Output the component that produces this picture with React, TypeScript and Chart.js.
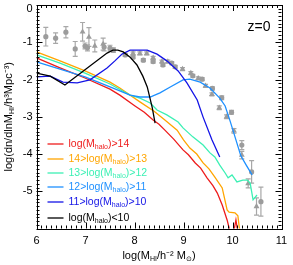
import React, { useEffect, useRef } from "react";
import { Chart, registerables } from "chart.js";
Chart.register(...registerables);

// ---- data (log M_HI, log dn/dlnM) ----
const redX = [6.0, 6.48, 6.99, 7.5, 7.7, 8.01, 8.2, 8.38, 8.5, 8.62, 8.8, 8.99, 9.1, 9.24, 9.35, 9.48, 9.6, 9.69, 9.79, 9.89, 9.95, 10.01, 10.07, 10.13];
const redY = [-1.42, -1.69, -1.96, -2.26, -2.42, -2.71, -2.88, -3.09, -3.2, -3.36, -3.6, -3.89, -4.02, -4.24, -4.38, -4.64, -4.85, -5.05, -5.37, -5.77, -6.09, -6.2, -5.77, -6.3];

const orangeX = [6.0, 6.48, 6.99, 7.5, 7.7, 8.11, 8.4, 8.62, 8.87, 9.0, 9.13, 9.27, 9.4, 9.52, 9.64, 9.79, 9.89, 9.93, 10.05, 10.11, 10.15];
const orangeY = [-1.26, -1.5, -1.77, -2.07, -2.23, -2.6, -2.85, -3.09, -3.36, -3.62, -3.84, -4.0, -4.24, -4.4, -4.62, -4.91, -5.5, -5.56, -5.58, -5.66, -6.1];

const greenX = [6.0, 6.48, 6.99, 7.5, 7.91, 8.11, 8.32, 8.46, 8.66, 8.89, 8.99, 9.19, 9.4, 9.54, 9.64, 9.74, 9.85, 9.91, 9.99, 10.09, 10.21, 10.3, 10.36, 10.42, 10.5];
const greenY = [-1.34, -1.56, -1.83, -2.12, -2.42, -2.5, -2.63, -2.82, -2.95, -3.14, -3.3, -3.54, -3.76, -3.97, -4.08, -4.3, -4.51, -4.64, -4.56, -4.75, -4.7, -4.7, -4.78, -5.23, -5.1];

const lblueX = [6.0, 6.48, 6.99, 7.5, 7.91, 8.11, 8.32, 8.52, 8.73, 8.99, 9.13, 9.34, 9.54, 9.74, 9.85, 9.95, 10.07, 10.17, 10.28, 10.4];
const lblueY = [-1.53, -1.72, -1.93, -2.2, -2.42, -2.47, -2.47, -2.36, -2.2, -2.01, -1.99, -2.07, -2.23, -2.5, -2.71, -3.11, -3.62, -4.05, -4.3, -4.56];

const blueX = [6.0, 6.28, 6.54, 6.83, 7.09, 7.44, 7.6, 7.74, 7.91, 8.26, 8.46, 8.66, 8.89, 9.07, 9.28, 9.4, 9.58, 9.74];
const blueY = [-1.93, -1.91, -2.07, -2.09, -2.01, -1.69, -1.5, -1.32, -1.21, -1.21, -1.32, -1.5, -1.77, -2.09, -2.55, -3.01, -3.62, -4.08];

const blackX = [6.0, 6.28, 6.58, 7.44, 7.56, 7.66, 7.77, 7.91, 8.05, 8.17, 8.26, 8.36, 8.42];
const blackY = [-1.83, -1.91, -2.15, -1.29, -1.21, -1.21, -1.26, -1.4, -1.61, -1.91, -2.2, -2.74, -3.17];

// observations: circles
const circX = [6.19, 6.39, 6.6, 6.79, 6.99, 7.04, 7.38, 7.5, 7.57, 7.81, 7.97, 8.18, 8.38, 8.58, 8.76, 8.83, 9.19, 9.38, 9.59, 9.78, 9.98, 10.19, 10.39, 10.58];
const circY = [-0.85, -0.89, -0.73, -1.18, -1.1, -1.15, -1.13, -1.16, -1.21, -1.34, -1.4, -1.48, -1.52, -1.61, -1.56, -1.66, -1.9, -1.99, -2.24, -2.49, -2.88, -3.76, -4.48, -5.28];
const circErr = [0.25, 0.14, 0.15, 0.2, 0.08, 0.08, 0.1, 0.08, 0.06, 0.04, 0.04, 0.04, 0.04, 0.04, 0.04, 0.04, 0.04, 0.04, 0.04, 0.05, 0.05, 0.12, 0.3, 0.39];
// observations: triangles
const triX = [6.94, 7.07, 7.19, 7.36, 7.97, 8.11, 8.25, 8.38, 8.56, 8.68, 8.98, 9.15, 9.3, 9.45, 9.58, 9.73, 9.88, 10.03, 10.19, 10.32, 10.49];
const triY = [-0.72, -0.86, -1.1, -1.05, -1.3, -1.3, -1.3, -1.42, -1.52, -1.52, -1.72, -1.83, -1.97, -2.17, -2.4, -2.76, -3.0, -3.38, -4.03, -4.79, -5.41];
const triErr = [0.25, 0.25, 0.16, 0.16, 0.04, 0.04, 0.04, 0.04, 0.04, 0.04, 0.04, 0.04, 0.04, 0.04, 0.04, 0.05, 0.05, 0.06, 0.1, 0.12, 0.23];

const xTicks = [6, 7, 8, 9, 10, 11];
const yTicks = [-5, -4, -3, -2, -1, 0];

const seriesColors = ["#ee1c1c", "#ffa500", "#3cf0b4", "#1e90ff", "#1414e6", "#000000"];
const legendPrefix = ["log(M", "14>log(M", "13>log(M", "12>log(M", "11>log(M", "log(M"];
const legendSuffix = [")>14", ")>13", ")>12", ")>11", ")>10", ")<10"];
const legendSub = "halo";
const panelLabel = "z=0";

const FONT = "'Liberation Sans', Arial, sans-serif";

type Seg = { t: string; sub?: boolean };

function richWidth(ctx: CanvasRenderingContext2D, segs: Seg[], size: number, subSize: number) {
  let w = 0;
  for (const s of segs) {
    ctx.font = `${s.sub ? subSize : size}px ${FONT}`;
    w += ctx.measureText(s.t).width;
  }
  return w;
}

function drawRich(ctx: CanvasRenderingContext2D, x: number, y: number, segs: Seg[], size: number, subSize: number, color: string, align: "left" | "center") {
  const w = richWidth(ctx, segs, size, subSize);
  let cx = align === "center" ? x - w / 2 : x;
  ctx.fillStyle = color;
  ctx.textBaseline = "middle";
  ctx.textAlign = "left";
  for (const s of segs) {
    ctx.font = `${s.sub ? subSize : size}px ${FONT}`;
    ctx.fillText(s.t, cx, s.sub ? y + size * 0.3 : y);
    cx += ctx.measureText(s.t).width;
  }
}

const zip = (xs: number[], ys: number[]) => xs.map((x, i) => ({ x, y: ys[i] }));

export default function App() {
  const ref = useRef<HTMLCanvasElement | null>(null);
  useEffect(() => {
    if (!ref.current) return;
    const lines = [
      [redX, redY],
      [orangeX, orangeY],
      [greenX, greenY],
      [lblueX, lblueY],
      [blueX, blueY],
      [blackX, blackY],
    ];
    const lineSets = lines.map(([xs, ys], i) => ({
      type: "line" as const,
      data: zip(xs, ys),
      borderColor: seriesColors[i],
      borderWidth: 1.3,
      pointRadius: 0,
      tension: 0,
      fill: false,
      order: 6 - i,
    }));

    const errPlugin = {
      id: "errbars",
      beforeDatasetsDraw(chart: any) {
        const { ctx, scales } = chart;
        const xs = scales.x, ys = scales.y;
        ctx.save();
        ctx.strokeStyle = "#a8a8a8";
        ctx.lineWidth = 1.2;
        const draw = (X: number[], Y: number[], E: number[]) => {
          X.forEach((xv, i) => {
            const px = xs.getPixelForValue(xv);
            const p1 = ys.getPixelForValue(Y[i] + E[i]);
            const p2 = ys.getPixelForValue(Y[i] - E[i]);
            ctx.beginPath();
            ctx.moveTo(px, p1); ctx.lineTo(px, p2);
            ctx.moveTo(px - 2.5, p1); ctx.lineTo(px + 2.5, p1);
            ctx.moveTo(px - 2.5, p2); ctx.lineTo(px + 2.5, p2);
            ctx.stroke();
          });
        };
        draw(circX, circY, circErr);
        draw(triX, triY, triErr);
        ctx.restore();
      },
    };

    const framePlugin = {
      id: "frame",
      afterDraw(chart: any) {
        const { ctx, chartArea: a, scales } = chart;
        const xs = scales.x, ys = scales.y;
        ctx.save();
        ctx.strokeStyle = "#000";
        ctx.lineWidth = 1;
        ctx.strokeRect(Math.round(a.left) + 0.5, Math.round(a.top) + 0.5, Math.round(a.right - a.left), Math.round(a.bottom - a.top));
        ctx.beginPath();
        for (let k = 60; k <= 110; k++) {
          const v = k / 10;
          const px = Math.round(xs.getPixelForValue(v)) + 0.5;
          const len = k % 10 === 0 ? 6 : 3;
          ctx.moveTo(px, a.bottom); ctx.lineTo(px, a.bottom - len);
          ctx.moveTo(px, a.top); ctx.lineTo(px, a.top + len);
        }
        for (let k = -60; k <= 0; k++) {
          const v = k / 10;
          const py = Math.round(ys.getPixelForValue(v)) + 0.5;
          const len = k % 10 === 0 ? 6 : 3;
          ctx.moveTo(a.left, py); ctx.lineTo(a.left + len, py);
          ctx.moveTo(a.right, py); ctx.lineTo(a.right - len, py);
        }
        ctx.stroke();

        // tick labels
        ctx.fillStyle = "#000";
        ctx.font = `11px ${FONT}`;
        ctx.textAlign = "center";
        ctx.textBaseline = "middle";
        xTicks.forEach((t) => ctx.fillText(String(t), xs.getPixelForValue(t), a.bottom + 12));
        ctx.textAlign = "right";
        yTicks.forEach((t) => ctx.fillText(String(t), a.left - 4, Math.max(ys.getPixelForValue(t), 8.5)));

        // axis titles
        drawRich(ctx, (a.left + a.right) / 2, a.bottom + 27, [
          { t: "log(M" }, { t: "HI", sub: true }, { t: "/h\u207B\u00B2 M" }, { t: "\u2299", sub: true }, { t: ")" },
        ], 11, 7, "#000", "center");
        ctx.save();
        ctx.translate(9, (a.top + a.bottom) / 2);
        ctx.rotate(-Math.PI / 2);
        drawRich(ctx, 0, 0, [
          { t: "log(dn/dlnM" }, { t: "HI", sub: true }, { t: "/h\u00B3Mpc\u207B\u00B3)" },
        ], 11, 7, "#000", "center");
        ctx.restore();

        // panel label
        ctx.font = `14px ${FONT}`;
        ctx.textAlign = "left";
        ctx.fillStyle = "#000";
        ctx.fillText(panelLabel, a.left + 211, a.top + 22);

        // legend
        const rowY = [144, 159, 173, 187, 202, 218];
        legendPrefix.forEach((p, i) => {
          ctx.strokeStyle = seriesColors[i];
          ctx.lineWidth = 1.3;
          ctx.beginPath();
          ctx.moveTo(a.left + 11, rowY[i]);
          ctx.lineTo(a.left + 27, rowY[i]);
          ctx.stroke();
          drawRich(ctx, a.left + 32, rowY[i], [
            { t: p }, { t: legendSub, sub: true }, { t: legendSuffix[i] },
          ], 10.5, 7, seriesColors[i], "left");
        });
        ctx.restore();
      },
    };

    const chart = new Chart(ref.current, {
      type: "line",
      data: {
        datasets: [
          ...lineSets,
          {
            type: "scatter" as const,
            data: zip(circX, circY),
            pointStyle: "circle",
            pointRadius: 2.6,
            backgroundColor: "#9c9c9c",
            borderColor: "#9c9c9c",
            borderWidth: 0,
            showLine: false,
            order: 20,
          },
          {
            type: "scatter" as const,
            data: zip(triX, triY),
            pointStyle: "triangle",
            pointRadius: 3.4,
            backgroundColor: "#9c9c9c",
            borderColor: "#9c9c9c",
            borderWidth: 0,
            showLine: false,
            order: 21,
          },
        ] as any,
      },
      options: {
        animation: false,
        responsive: true,
        maintainAspectRatio: false,
        layout: { padding: { left: 36.5, right: 11.5, top: 5, bottom: 36.5 } },
        plugins: { legend: { display: false }, tooltip: { enabled: false } },
        scales: {
          x: { type: "linear", min: 6, max: 11, display: false },
          y: { type: "linear", min: -6, max: 0, display: false },
        },
      },
      plugins: [errPlugin, framePlugin],
    });
    return () => chart.destroy();
  }, []);

  return (
    <div style={{ position: "fixed", left: 0, top: 0, width: 293, height: 265, background: "#fff" }}>
      <canvas ref={ref} />
    </div>
  );
}
